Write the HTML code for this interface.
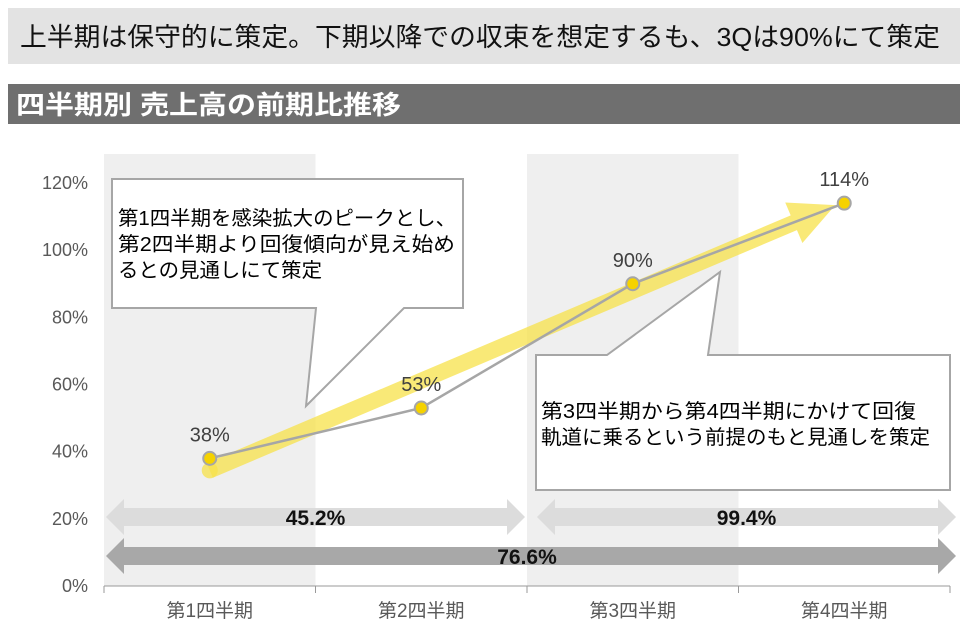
<!DOCTYPE html>
<html><head><meta charset="utf-8"><style>
body{margin:0;width:967px;height:629px;overflow:hidden;background:#fff;font-family:"Liberation Sans","Noto Sans CJK JP",sans-serif}
</style></head><body>
<svg width="967" height="629" xmlns="http://www.w3.org/2000/svg" font-family="Liberation Sans, Noto Sans CJK JP, sans-serif">
<rect x="8" y="8" width="952" height="56" fill="#e3e3e3"/>
<text x="20" y="46" font-size="26" textLength="920" lengthAdjust="spacingAndGlyphs" fill="#111">上半期は保守的に策定。下期以降での収束を想定するも、3Qは90%にて策定</text>
<rect x="8" y="84" width="952" height="40" fill="#6f6f6f"/>
<text x="16" y="114" font-size="26" font-weight="bold" textLength="385" lengthAdjust="spacingAndGlyphs" fill="#fff">四半期別 売上高の前期比推移</text>
<g id="plot"></g>
</svg>
<script>
const categories=["第1四半期","第2四半期","第3四半期","第4四半期"];
const values=[38,53,90,114];
const labels=["38%","53%","90%","114%"];
const yTicks=[0,20,40,60,80,100,120];
const spans=[{from:0,to:1,label:"45.2%"},{from:2,to:3,label:"99.4%"}];
const total={from:0,to:3,label:"76.6%"};

const NS="http://www.w3.org/2000/svg";
const g=document.getElementById('plot');
const x0=104,x1=950,bw=(x1-x0)/categories.length;
const X=i=>x0+bw*(i+0.5);
const Y=v=>586-v*(586-183)/120;
function el(t,a,p){const e=document.createElementNS(NS,t);for(const k in a)e.setAttribute(k,a[k]);(p||g).appendChild(e);return e;}
categories.forEach((c,i)=>{if(i%2===0){const r=el('rect',{x:x0+bw*i,y:154,width:bw,height:586-154,fill:'#efefef'});

}});
yTicks.forEach(t=>{const e=el('text',{x:88,y:Y(t)+6,'text-anchor':'end','font-size':18,fill:'#595959'});e.textContent=t+'%';

});
const ax=el('line',{x1:x0,y1:586,x2:x1,y2:586,stroke:'#9a9a9a','stroke-width':1});


for(let i=0;i<=categories.length;i++){el('line',{x1:x0+bw*i,y1:586,x2:x0+bw*i,y2:593,stroke:'#9a9a9a'});}
categories.forEach((c,i)=>{const e=el('text',{x:X(i),y:617,'text-anchor':'middle','font-size':19,fill:'#595959'});e.textContent=c;

});
function dbl(xa,xb,cy,bh,hh,hl,fill,name){const p=el('polygon',{points:[[xa,cy],[xa+hl,cy-hh],[xa+hl,cy-bh],[xb-hl,cy-bh],[xb-hl,cy-hh],[xb,cy],[xb-hl,cy+hh],[xb-hl,cy+bh],[xa+hl,cy+bh],[xa+hl,cy+hh]].map(q=>q.join(',')).join(' '),fill:fill});

}
spans.forEach((s,k)=>{const xa=x0+bw*s.from+(k?10:2),xb=x0+bw*(s.to+1)+(k?6:-2);
dbl(xa,xb,517,9,18,18,'#dcdcdc','span-arrow-'+(k+1));
const t=el('text',{x:(xa+xb)/2,y:525,'text-anchor':'middle','font-size':21,'font-weight':'bold',fill:'#111'});t.textContent=s.label;

});
dbl(x0+2,x0+bw*(total.to+1)+6,556,9,18,18,'#a8a8a8','total-arrow');
const tt=el('text',{x:(x0+x1)/2,y:564,'text-anchor':'middle','font-size':21,'font-weight':'bold',fill:'#111'});tt.textContent=total.label;


// trend arrow
const ax0=X(0),ay0=Y(values[0])+12,ax1=X(3)-9,ay1=Y(values[3])+2;
const dx=ax1-ax0,dy=ay1-ay0,L=Math.hypot(dx,dy),ux=dx/L,uy=dy/L,nx=-uy,ny=ux;
const hb=[ax1-ux*45,ay1-uy*45];
const tr=el('polygon',{points:[[ax0+nx*8,ay0+ny*8],[hb[0]+nx*8,hb[1]+ny*8],[hb[0]+nx*22,hb[1]+ny*22],[ax1,ay1],[hb[0]-nx*22,hb[1]-ny*22],[hb[0]-nx*8,hb[1]-ny*8],[ax0-nx*8,ay0-ny*8]].map(q=>q.join(',')).join(' '),fill:'#f7e24a',opacity:0.75});


const cap=el('circle',{cx:ax0,cy:ay0,r:8,fill:'#f7e24a',opacity:0.75});


const ln=el('polyline',{points:values.map((v,i)=>X(i)+','+Y(v)).join(' '),fill:'none',stroke:'#a6a6a6','stroke-width':2.5});


values.forEach((v,i)=>{const c=el('circle',{cx:X(i),cy:Y(v),r:6.5,fill:'#f5d200',stroke:'#a6a6a6','stroke-width':2});


const t=el('text',{x:X(i),y:Y(v)-17,'text-anchor':'middle','font-size':20,fill:'#404040'});t.textContent=labels[i];

});
function callout(pts,lines,lens,tx,ty,name){const p=el('polygon',{points:pts.map(q=>q.join(',')).join(' '),fill:'#fff',stroke:'#a6a6a6','stroke-width':2});


lines.forEach((s,i)=>{const t=el('text',{x:tx,y:ty+i*26,'font-size':20,fill:'#000',textLength:lens[i],lengthAdjust:'spacingAndGlyphs'});t.textContent=s;

});}
callout([[112,179],[463,179],[463,308],[404,308],[306,406],[316,308],[112,308]],["第1四半期を感染拡大のピークとし、","第2四半期より回復傾向が見え始め","るとの見通しにて策定"],[338,337,204],118,225,'callout-1');
callout([[536,355],[607,355],[720,272],[708,355],[950,355],[950,490],[536,490]],["第3四半期から第4四半期にかけて回復","軌道に乗るという前提のもと見通しを策定"],[375,389],541,418,'callout-2');
</script>
</body></html>
